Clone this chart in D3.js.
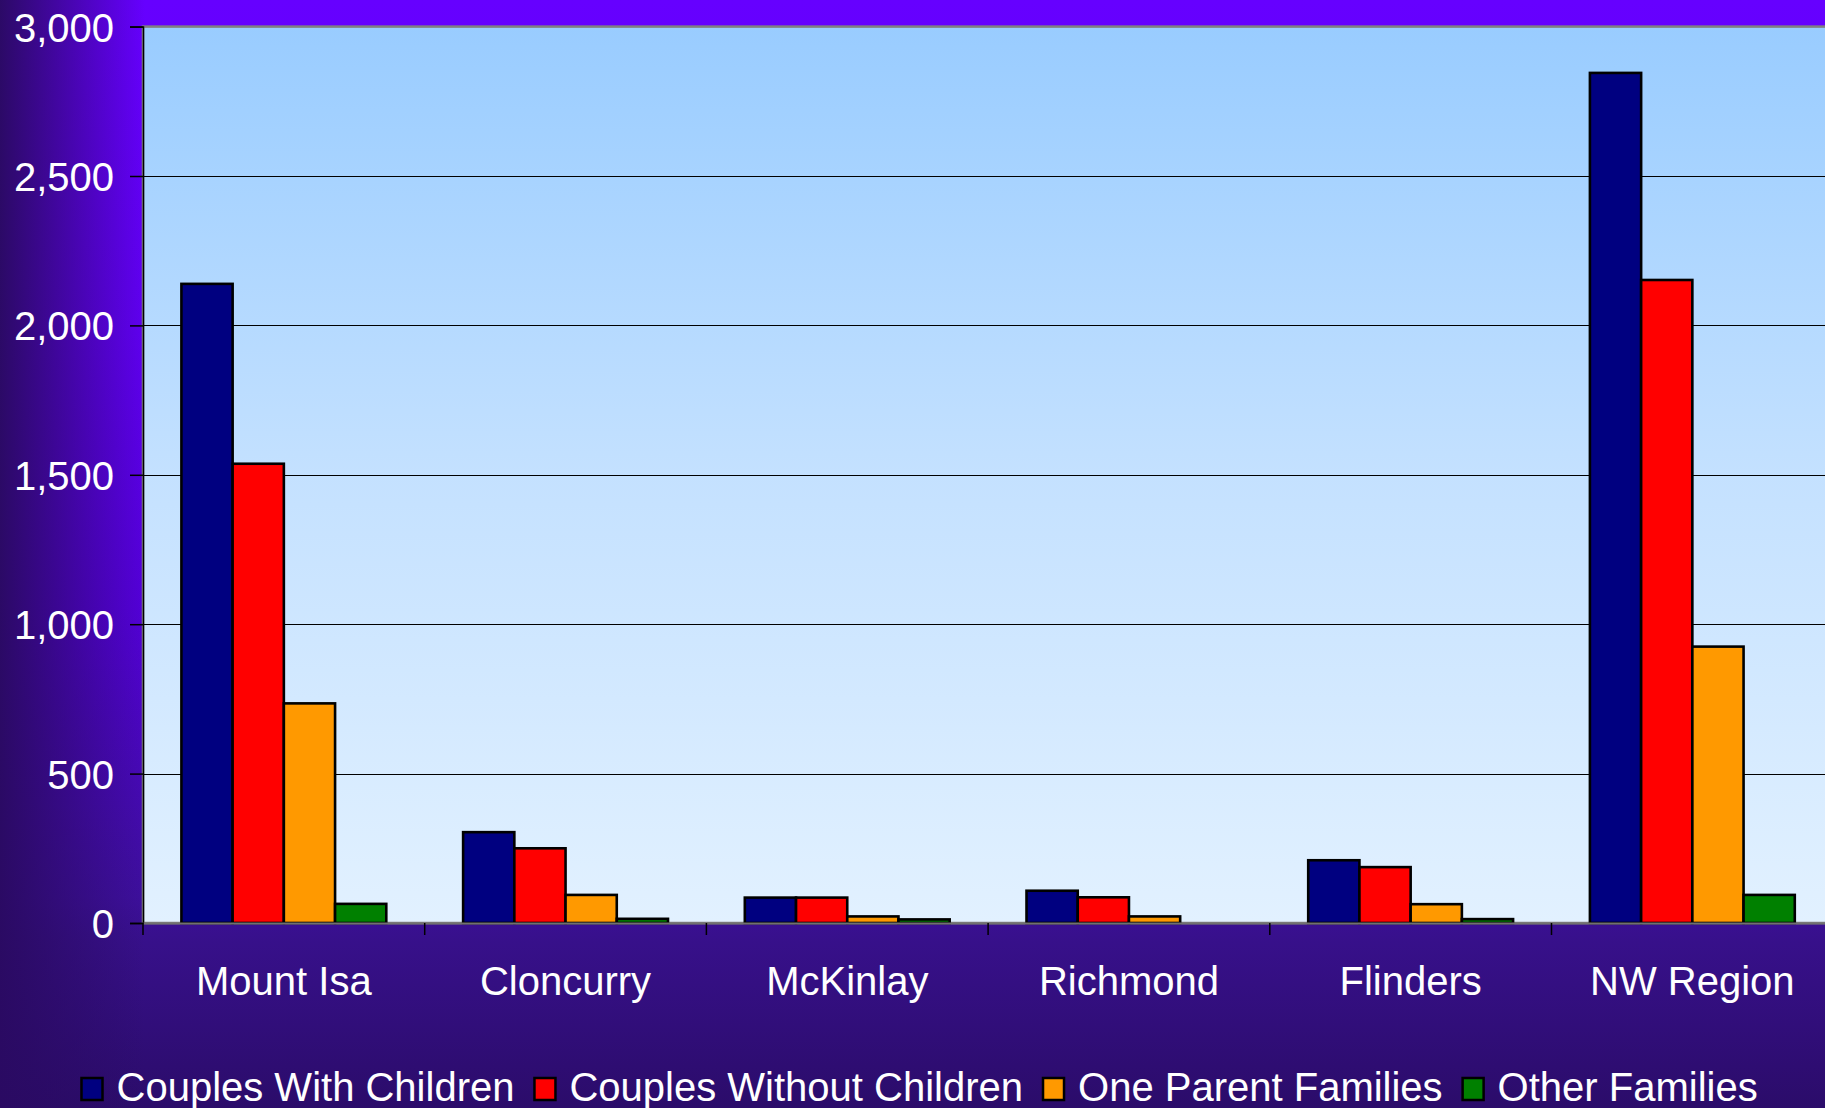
<!DOCTYPE html>
<html>
<head>
<meta charset="utf-8">
<script src="https://cdn.jsdelivr.net/npm/d3@7"></script>
<style>
  html, body { margin: 0; padding: 0; background: #2c0c6c; overflow: hidden; }
  svg { display: block; }
  text { font-family: "Liberation Sans", Arial, sans-serif; fill: #ffffff; }
</style>
</head>
<body>
<svg id="chart" width="1825" height="1108"></svg>
<script>
const categories = ["Mount Isa", "Cloncurry", "McKinlay", "Richmond", "Flinders", "NW Region"];
const seriesNames = ["Couples With Children", "Couples Without Children", "One Parent Families", "Other Families"];
const couplesWithChildren    = [2139, 304, 85, 108, 210, 2845];
const couplesWithoutChildren = [1537, 250, 85, 86, 187, 2152];
const oneParentFamilies      = [735, 94, 22, 22, 63, 925];
const otherFamilies          = [64, 14, 12, 0, 13, 94];
const yTicks = [0, 500, 1000, 1500, 2000, 2500, 3000];
const colors = ["#000080", "#ff0000", "#ff9900", "#008000"];

const seriesValues = [couplesWithChildren, couplesWithoutChildren, oneParentFamilies, otherFamilies];

const W = 1825, H = 1108;
const plotLeft = 143, plotTop = 26.6, plotBottom = 923;
const bandW = 281.7;
const plotRight = plotLeft + bandW * categories.length;

const svg = d3.select("#chart");
const defs = svg.append("defs");

// Outer background gradients
const bgV = defs.append("linearGradient").attr("id", "bgV")
  .attr("x1", 0).attr("y1", 0).attr("x2", 0).attr("y2", 1);
[[0, "#6600ff"], [0.3, "#5f00f0"], [0.55, "#5300d8"], [0.81, "#3d0f9c"], [0.85, "#37108a"], [1, "#2b0c6a"]]
  .forEach(([o, c]) => bgV.append("stop").attr("offset", o).attr("stop-color", c));

const bgH = defs.append("linearGradient").attr("id", "bgH")
  .attr("gradientUnits", "userSpaceOnUse")
  .attr("x1", 0).attr("y1", 0).attr("x2", 145).attr("y2", 0);
bgH.append("stop").attr("offset", 0).attr("stop-color", "#2a0a62").attr("stop-opacity", 0.97);
bgH.append("stop").attr("offset", 1).attr("stop-color", "#2a0a62").attr("stop-opacity", 0);

const plotG = defs.append("linearGradient").attr("id", "plotG")
  .attr("x1", 0).attr("y1", 0).attr("x2", 0).attr("y2", 1);
[[0, "#99ccff"], [0.5, "#c4e1ff"], [1, "#e2f1ff"]]
  .forEach(([o, c]) => plotG.append("stop").attr("offset", o).attr("stop-color", c));

svg.append("rect").attr("width", W).attr("height", H).attr("fill", "url(#bgV)");
svg.append("rect").attr("width", 150).attr("height", H).attr("fill", "url(#bgH)");

// Scales
const x = d3.scaleBand().domain(categories).range([plotLeft, plotRight]).padding(0);
const y = d3.scaleLinear().domain([0, 3000]).range([plotBottom, plotTop]);
const barW = x.bandwidth() / 5.5;
const inner = d3.scaleBand().domain(seriesNames)
  .range([0.75 * barW, 0.75 * barW + 4 * barW]).padding(0);

// Plot area
svg.append("rect")
  .attr("x", plotLeft).attr("y", plotTop)
  .attr("width", plotRight - plotLeft).attr("height", plotBottom - plotTop)
  .attr("fill", "url(#plotG)")
  .attr("stroke", "#808080").attr("stroke-width", 2.5);

// Gridlines
svg.append("g").selectAll("line")
  .data(yTicks.filter(t => t > 0 && t < 3000))
  .join("line")
  .attr("x1", plotLeft).attr("x2", plotRight)
  .attr("y1", d => Math.round(y(d)) + 0.5).attr("y2", d => Math.round(y(d)) + 0.5)
  .attr("stroke", "#000").attr("stroke-width", 1.2);

// Bars
const groups = svg.append("g").selectAll("g")
  .data(categories)
  .join("g")
  .attr("transform", d => `translate(${x(d)},0)`);

groups.selectAll("rect")
  .data((c, i) => seriesNames.map((s, k) => ({ s, k, v: seriesValues[k][i] })))
  .join("rect")
  .filter(d => d.v > 0)
  .attr("x", d => inner(d.s))
  .attr("width", inner.bandwidth())
  .attr("y", d => y(d.v))
  .attr("height", d => y(0) - y(d.v))
  .attr("fill", d => colors[d.k])
  .attr("stroke", "#000")
  .attr("stroke-width", 2.6);

// Y axis
const yAxis = d3.axisLeft(y).tickValues(yTicks).tickSize(13).tickPadding(16)
  .tickFormat(d3.format(","));
const yg = svg.append("g").attr("transform", `translate(${plotLeft},0)`).call(yAxis);
yg.select(".domain").attr("stroke", "#000").attr("stroke-width", 1.5);
yg.selectAll(".tick line").attr("stroke", "#000").attr("stroke-width", 1.5);
yg.selectAll(".tick text")
  .style("font-family", "'Liberation Sans', Arial, sans-serif")
  .style("font-size", "40px").attr("fill", "#fff").attr("dy", "0.36em");

// X axis line and ticks at band boundaries
const xg = svg.append("g").attr("transform", `translate(0,${plotBottom})`).call(
  d3.axisBottom(x).tickSize(0).tickPadding(44)
);
xg.select(".domain").attr("stroke", "#707070").attr("stroke-width", 2);
xg.selectAll(".tick text")
  .style("font-family", "'Liberation Sans', Arial, sans-serif")
  .style("font-size", "40px").attr("fill", "#fff");

svg.append("g").selectAll("line")
  .data(categories.map(c => x(c)))
  .join("line")
  .attr("x1", d => d).attr("x2", d => d)
  .attr("y1", plotBottom).attr("y2", plotBottom + 12)
  .attr("stroke", "#000").attr("stroke-width", 1.5);

// Legend
const legend = svg.append("g");
let lx = 81.5;
seriesNames.forEach((name, k) => {
  legend.append("rect")
    .attr("x", lx).attr("y", 1078)
    .attr("width", 21).attr("height", 22)
    .attr("fill", colors[k]).attr("stroke", "#000").attr("stroke-width", 2.5);
  const t = legend.append("text")
    .attr("x", lx + 35).attr("y", 1101)
    .style("font-size", "40px")
    .text(name);
  lx = lx + 35 + t.node().getComputedTextLength() + 20;
});
</script>
</body>
</html>
